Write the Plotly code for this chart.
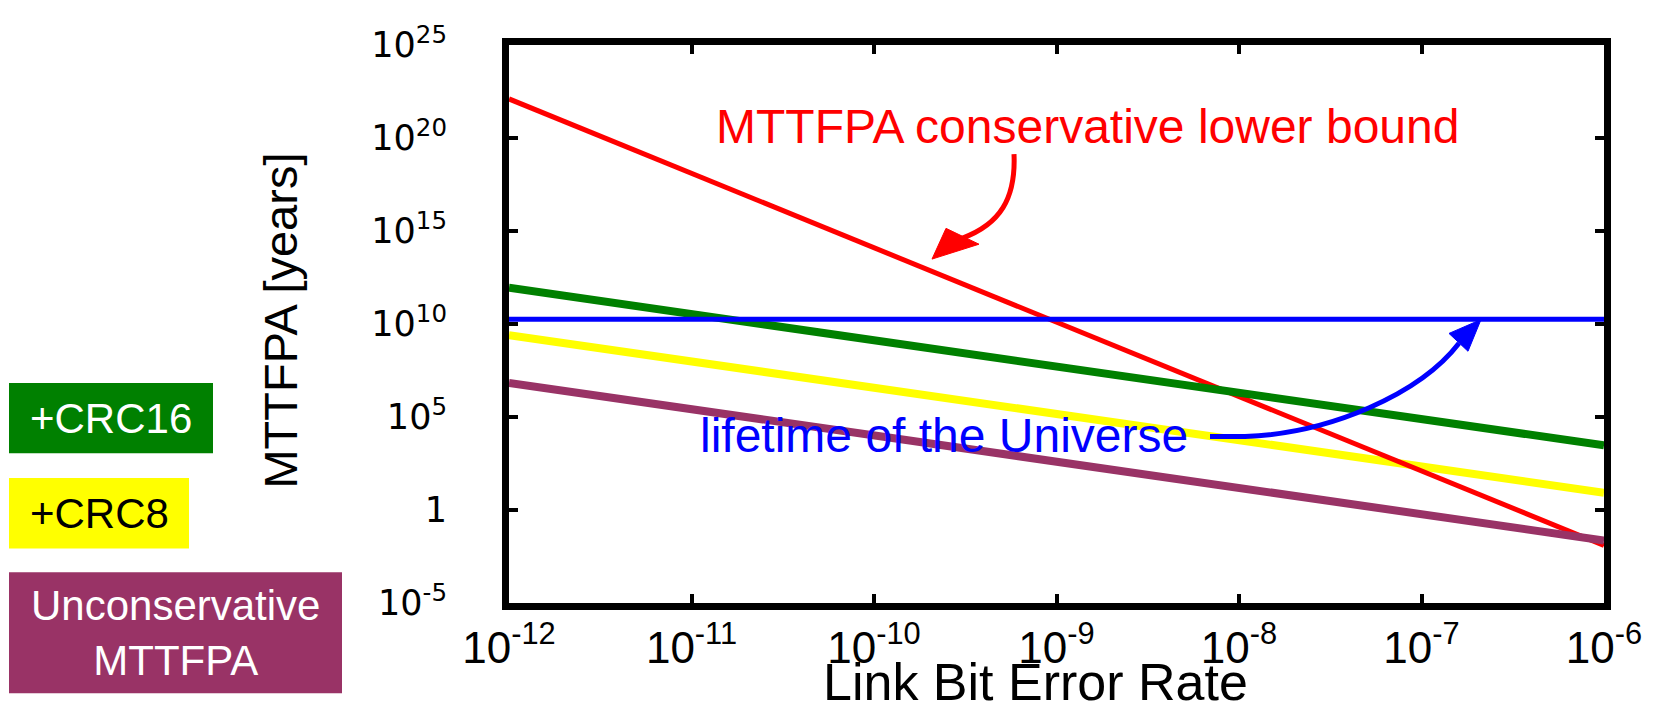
import plotly.graph_objects as go

# ---------------- data ----------------
ber = [1e-12, 1e-6]
mttfpa_conservative = [1.26e22, 1.26e-2]
mttfpa_crc16 = [8.9e11, 3.0e3]
mttfpa_crc8 = [2.5e9, 8.5]
mttfpa_unconservative = [6.8e6, 2.3e-2]
universe_lifetime = [1.8e10, 1.8e10]

x_tickvals = [1e-12, 1e-11, 1e-10, 1e-9, 1e-8, 1e-7, 1e-6]
x_ticktext = ["10<sup>-12</sup>", "10<sup>-11</sup>", "10<sup>-10</sup>", "10<sup>-9</sup>",
              "10<sup>-8</sup>", "10<sup>-7</sup>", "10<sup>-6</sup>"]
y_tickvals = [1e-5, 1, 1e5, 1e10, 1e15, 1e20, 1e25]
y_ticktext = ["10<sup>-5</sup>", "1", "10<sup>5</sup>", "10<sup>10</sup>", "10<sup>15</sup>",
              "10<sup>20</sup>", "10<sup>25</sup>"]

legend_labels = ["+CRC16", "+CRC8", "Unconservative<br>MTTFPA"]

# ---------------- layout geometry (reference pixel frame) ----------------
PAGE_OFFSET = 8            # default body margin of the html page
W, H = 1658 - PAGE_OFFSET, 715 - PAGE_OFFSET
L, R, T, B = 509, 1604, 40, 603
FONT = "Liberation Sans, Arial, Helvetica, sans-serif"
TICKFONT_Y = "DejaVu Sans, Liberation Sans, Arial, sans-serif"

def px(x):
    return (x - L) / (R - L)

def py(y):
    return (B - y) / (B - T)

RED = "#FF0000"
BLUE = "#0000FF"
GREEN = "#008000"
YELLOW = "#FFFF00"
PURPLE = "#993366"

fig = go.Figure()
fig.add_trace(go.Scatter(x=ber, y=mttfpa_crc8, mode="lines", line=dict(color=YELLOW, width=8), name="+CRC8"))
fig.add_trace(go.Scatter(x=ber, y=mttfpa_conservative, mode="lines", line=dict(color=RED, width=5),
                         name="MTTFPA conservative lower bound"))
fig.add_trace(go.Scatter(x=ber, y=mttfpa_crc16, mode="lines", line=dict(color=GREEN, width=8), name="+CRC16"))
fig.add_trace(go.Scatter(x=ber, y=mttfpa_unconservative, mode="lines", line=dict(color=PURPLE, width=8),
                         name="Unconservative MTTFPA"))
fig.add_trace(go.Scatter(x=ber, y=universe_lifetime, mode="lines", line=dict(color=BLUE, width=5),
                         name="lifetime of the Universe"))

shapes = []
annotations = []

# curved red arrow
shapes.append(dict(type="path", xref="paper", yref="paper",
                   path=f"M {px(1014)},{py(150)} C {px(1016)},{py(195)} {px(1000)},{py(221)} {px(962)},{py(235)}",
                   line=dict(color=RED, width=5)))
shapes.append(dict(type="path", xref="paper", yref="paper",
                   path=f"M {px(932)},{py(256)} L {px(946)},{py(225)} L {px(979)},{py(241)} Z",
                   fillcolor=RED, line=dict(color=RED, width=1)))
# curved blue arrow
shapes.append(dict(type="path", xref="paper", yref="paper",
                   path=f"M {px(1210)},{py(435)} L {px(1245)},{py(435)} C {px(1330)},{py(432)} {px(1420)},{py(392)} {px(1459)},{py(341)}",
                   line=dict(color=BLUE, width=5)))
shapes.append(dict(type="path", xref="paper", yref="paper",
                   path=f"M {px(1481)},{py(317)} L {px(1449)},{py(331)} L {px(1468)},{py(349)} Z",
                   fillcolor=BLUE, line=dict(color=BLUE, width=1)))

# legend-like boxes on the left
boxes = [(9, 213, 381, 452, GREEN, "white"),
         (9, 189, 477, 548, YELLOW, "black"),
         (9, 342, 572, 694, PURPLE, "white")]
for (x0, x1, y0, y1, col, tcol), label in zip(boxes, legend_labels):
    shapes.append(dict(type="rect", xref="paper", yref="paper",
                       x0=px(x0), x1=px(x1), y0=py(y1), y1=py(y0),
                       fillcolor=col, line=dict(width=0)))
    annotations.append(dict(xref="paper", yref="paper", x=px((x0 + x1) / 2), y=py((y0 + y1) / 2),
                            text=label, showarrow=False, xanchor="center", yanchor="middle",
                            font=dict(family=FONT, size=42, color=tcol)))

annotations.append(dict(xref="paper", yref="paper", x=px(1087), y=py(122),
                        text="MTTFPA conservative lower bound", showarrow=False,
                        xanchor="center", yanchor="middle",
                        font=dict(family=FONT, size=48, color=RED)))
annotations.append(dict(xref="paper", yref="paper", x=px(698), y=py(434),
                        text="lifetime of the Universe", showarrow=False,
                        xanchor="left", yanchor="middle",
                        font=dict(family=FONT, size=48, color=BLUE)))
annotations.append(dict(xref="paper", yref="paper", x=px(281), y=py(318),
                        text="MTTFPA [years]", showarrow=False, textangle=-90,
                        xanchor="center", yanchor="middle",
                        font=dict(family=FONT, size=47, color="black")))
annotations.append(dict(xref="paper", yref="paper", x=px(1035), y=py(714),
                        text="Link Bit Error Rate", showarrow=False,
                        xanchor="center", yanchor="bottom",
                        font=dict(family=FONT, size=52, color="black")))

axis_common = dict(type="log", showline=True, linewidth=7, linecolor="black", mirror="ticks",
                   ticks="inside", ticklen=9, tickwidth=4, tickcolor="black",
                   showgrid=False, zeroline=False)

fig.update_layout(
    width=W, height=H,
    margin=dict(l=L - PAGE_OFFSET, r=W - (R - PAGE_OFFSET), t=T - PAGE_OFFSET,
                b=H - (B - PAGE_OFFSET), pad=0),
    paper_bgcolor="white", plot_bgcolor="white",
    showlegend=False,
    shapes=shapes, annotations=annotations,
    xaxis=dict(range=[-12, -6], tickvals=x_tickvals, ticktext=x_ticktext,
               tickfont=dict(family=FONT, size=44, color="black"), **axis_common),
    yaxis=dict(range=[-5, 25], tickvals=y_tickvals, ticktext=y_ticktext, ticklabelstandoff=48,
               tickfont=dict(family=TICKFONT_Y, size=35, color="black"), **axis_common),
)

fig.write_html("out.html")
